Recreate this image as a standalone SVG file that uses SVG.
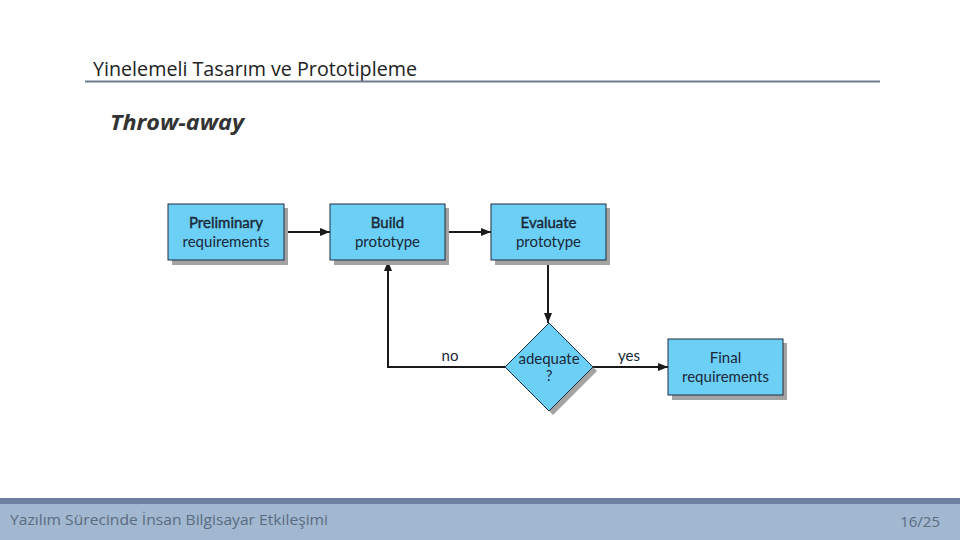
<svg xmlns="http://www.w3.org/2000/svg" width="960" height="540" viewBox="0 0 960 540">
<defs>
<marker id="arr" viewBox="0 0 10 10" refX="10" refY="5" markerWidth="10" markerHeight="10" markerUnits="userSpaceOnUse" orient="auto">
<path d="M0,1 L10,5 L0,9 Z" fill="#1a1a1a"/>
</marker>
</defs>
<style>
.box{fill:#6ccff6;stroke:#1f2d40;stroke-width:1}
.sh{fill:#a3a3a3}
.lbl{font-family:Lato,"Open Sans",sans-serif;font-size:15px;fill:#1a2838;text-anchor:middle}
.b{stroke:#1a2838;stroke-width:0.4}
.con{fill:none;stroke:#1a1a1a;stroke-width:2}
</style>
<rect width="960" height="540" fill="#ffffff"/>
<g id="header">
<text x="93" y="76" font-family="'Open Sans',sans-serif" font-size="20" fill="#222" textLength="324" lengthAdjust="spacingAndGlyphs">Yinelemeli Tasarım ve Prototipleme</text>
<line x1="85" y1="81.5" x2="880" y2="81.5" stroke="#6e7b8f" stroke-width="2"/>
<text x="110" y="130" font-family="'Open Sans',sans-serif" font-size="21" font-style="italic" font-weight="bold" fill="#333" textLength="134" lengthAdjust="spacingAndGlyphs">Throw-away</text>
</g>
<g id="connectors">
<line class="con" x1="284" y1="232" x2="330" y2="232" marker-end="url(#arr)"/>
<line class="con" x1="445" y1="232" x2="491" y2="232" marker-end="url(#arr)"/>
<line class="con" x1="548" y1="261" x2="548" y2="323" marker-end="url(#arr)"/>
<polyline class="con" points="505,367 388,367 388,261" marker-end="url(#arr)"/>
<line class="con" x1="593" y1="367" x2="668" y2="367" marker-end="url(#arr)"/>
<text class="lbl" x="450" y="361">no</text>
<text class="lbl" x="629" y="361">yes</text>
</g>
<g id="preliminary">
<rect class="sh" x="172" y="208" width="116" height="57"/>
<rect class="box" x="168" y="204" width="116" height="56"/>
<text class="lbl b" x="226" y="228">Preliminary</text>
<text class="lbl" x="226" y="247">requirements</text>
</g>
<g id="build">
<rect class="sh" x="334" y="208" width="115" height="57"/>
<rect class="box" x="330" y="204" width="115" height="56"/>
<text class="lbl b" x="387.5" y="228">Build</text>
<text class="lbl" x="387.5" y="247">prototype</text>
</g>
<g id="evaluate">
<rect class="sh" x="495" y="208" width="115" height="57"/>
<rect class="box" x="491" y="204" width="115" height="56"/>
<text class="lbl b" x="548.5" y="228">Evaluate</text>
<text class="lbl" x="548.5" y="247">prototype</text>
</g>
<g id="adequate">
<polygon class="sh" points="553,327 597,371 553,415 509,371"/>
<polygon class="box" points="549,323 593,367 549,411 505,367"/>
<text class="lbl" x="549" y="364">adequate</text>
<text class="lbl" x="549" y="381">?</text>
</g>
<g id="final">
<rect class="sh" x="672" y="343" width="115" height="57"/>
<rect class="box" x="668" y="339" width="115" height="56"/>
<text class="lbl" x="725.5" y="363">Final</text>
<text class="lbl" x="725.5" y="382">requirements</text>
</g>
<g id="footer">
<rect x="0" y="498" width="960" height="6" fill="#6f7fa3"/>
<rect x="0" y="504" width="960" height="36" fill="#a1b8d0"/>
<text x="10" y="525" font-family="'Open Sans',sans-serif" font-size="15" fill="#5b6b80" textLength="318" lengthAdjust="spacingAndGlyphs">Yazılım Sürecinde İnsan Bilgisayar Etkileşimi</text>
<text x="940" y="527" font-family="'Open Sans',sans-serif" font-size="15" fill="#5b6b80" text-anchor="end">16/25</text>
</g>
</svg>
